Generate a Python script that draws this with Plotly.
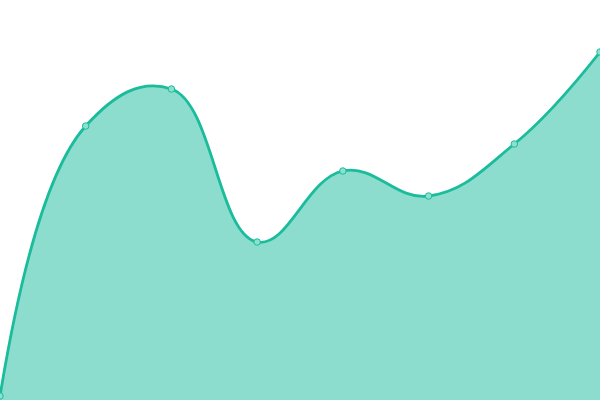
import plotly.graph_objects as go

x_values = [0, 1, 2, 3, 4, 5, 6, 7]
y_values = [4, 274, 311, 158, 229, 204, 256, 348]

fig = go.Figure()

fig.add_trace(
    go.Scatter(
        x=x_values,
        y=y_values,
        mode="lines+markers",
        fill="tozeroy",
        fillcolor="rgba(26,188,156,0.5)",
        line=dict(color="#1abc9c", width=2.8, shape="spline", smoothing=1.2),
        marker=dict(size=6.5, color="#8be0cf", line=dict(color="#1abc9c", width=1)),
        cliponaxis=False,
        hoverinfo="x+y",
    )
)

fig.update_layout(
    width=600,
    height=400,
    margin={'l': 0, 'r': 0, 'b': 0, 't': 0},
    paper_bgcolor="white",
    plot_bgcolor="white",
    showlegend=False,
    xaxis=dict(range=[0, 7], visible=False, fixedrange=True),
    yaxis=dict(range=[0, 400], visible=False, fixedrange=True),
)

# page body has a default 8px margin, drop it so the plot sits at the window edge
fig.write_html("out.html", config={'displayModeBar': False},
               post_script="document.body.style.margin='0';document.body.style.overflow='hidden';")
